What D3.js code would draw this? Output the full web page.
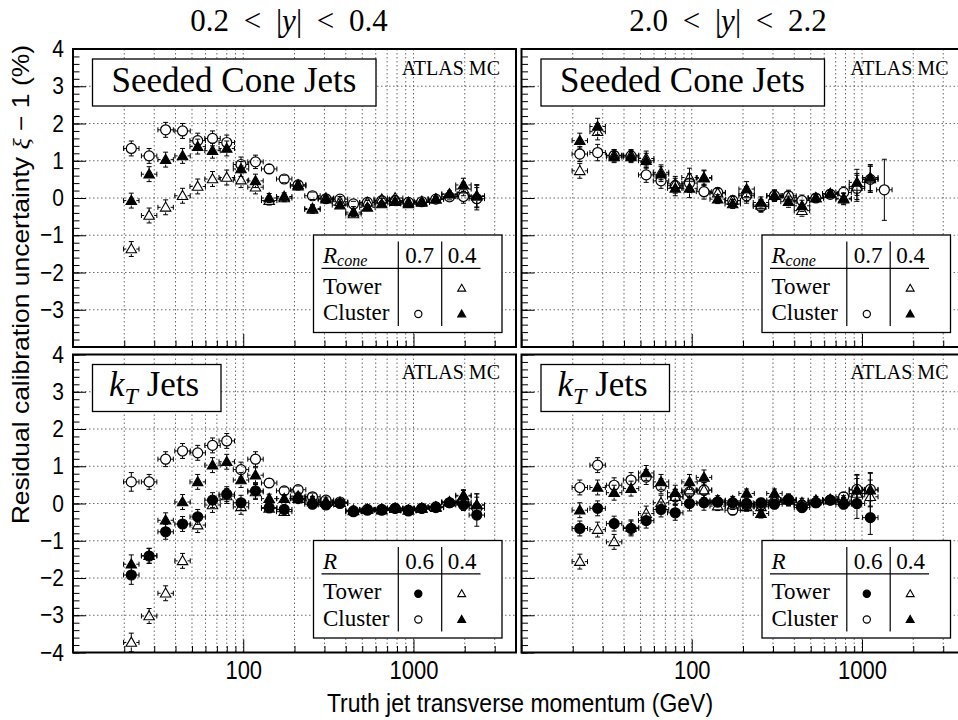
<!DOCTYPE html>
<html>
<head>
<meta charset="utf-8">
<script src="https://cdn.jsdelivr.net/npm/d3@7"></script>
<style>
  body { margin: 0; background: #fff; }
</style>
</head>
<body>
<div id="chart"></div>
<script>
// bin centres in truth jet pT (GeV)
const ptBins = [22, 28, 35, 44, 54, 66, 80, 97, 118, 142, 174, 210, 255, 306, 370, 444, 536, 651, 780, 934, 1119, 1353, 1627, 1965, 2354];

// axis ticks
const yMajorTicks = [-4, -3, -2, -1, 0, 1, 2, 3, 4];
const yLabelTicksTop = [-3, -2, -1, 0, 1, 2, 3, 4];
const yLabelTicksBottom = [-4, -3, -2, -1, 0, 1, 2, 3, 4];
const yMinorTicks = d3.range(-4, 4.001, 0.2).map(v => +v.toFixed(1));
const xMajorTicks = [10, 100, 1000];
const xMinorTicks = [20, 30, 40, 50, 60, 70, 80, 90, 200, 300, 400, 500, 600, 700, 800, 900, 2000, 3000];
const xTickLabels = [100, 1000];

// Seeded cone, 0.2 < |y| < 0.4
const tlCluster07 = [1.33, 1.13, 1.83, 1.80, 1.54, 1.60, 1.49, 0.90, 0.97, 0.78, 0.51, 0.35, 0.06, -0.02, -0.03, -0.16, -0.12, -0.07, -0.07, -0.12, -0.10, -0.03, 0.03, 0.04, -0.02];
const tlCluster04 = [-0.07, 0.64, 1.03, 1.13, 1.38, 1.27, 1.33, 0.78, 0.46, 0.00, 0.04, 0.35, -0.28, -0.03, -0.19, -0.38, -0.25, -0.16, -0.10, -0.16, -0.12, -0.03, 0.11, 0.35, 0.06];
const tlTower04 = [-1.37, -0.47, -0.25, 0.06, 0.31, 0.51, 0.55, 0.48, 0.29, -0.07, 0.00, 0.32, -0.31, 0.00, -0.10, -0.43, -0.12, -0.03, 0.00, -0.12, -0.09, -0.03, 0.10, 0.24, 0.04];
const tlErr = [0.2, 0.2, 0.2, 0.2, 0.2, 0.2, 0.2, 0.2, 0.18, 0.12, 0.1, 0.1, 0.1, 0.08, 0.07, 0.07, 0.06, 0.06, 0.06, 0.06, 0.06, 0.06, 0.08, 0.18, 0.3];

// Seeded cone, 2.0 < |y| < 2.2
const trCluster07 = [1.18, 1.22, 1.14, 1.13, 0.62, 0.46, 0.33, 0.40, 0.17, 0.15, -0.07, 0.06, -0.23, 0.06, 0.06, -0.07, 0.00, 0.10, 0.15, 0.26, 0.50, 0.22];
const trCluster04 = [1.54, 1.92, 1.10, 1.10, 1.00, 0.64, 0.26, 0.26, 0.53, -0.03, -0.16, 0.24, -0.12, 0.06, -0.10, -0.21, 0.00, 0.12, -0.01, 0.42, 0.55];
const trTower04 = [0.73, 1.78, 1.15, 1.15, 1.06, 0.69, 0.38, 0.55, 0.55, 0.13, -0.07, 0.11, -0.19, 0.06, 0.02, -0.34, 0.00, 0.12, -0.03, 0.31, 0.51];
const trErr = [0.2, 0.22, 0.15, 0.15, 0.2, 0.2, 0.2, 0.25, 0.2, 0.12, 0.12, 0.2, 0.15, 0.15, 0.15, 0.15, 0.1, 0.1, 0.15, 0.35, 0.35, 0.82];

// kT, 0.2 < |y| < 0.4
const blTower06 = [-1.92, -1.41, -0.76, -0.55, -0.36, 0.09, 0.25, 0.02, 0.34, -0.11, -0.16, 0.13, -0.02, -0.04, 0.00, -0.22, -0.18, -0.18, -0.13, -0.20, -0.13, -0.11, 0.02, -0.04, -0.31];
const blCluster06 = [0.58, 0.58, 1.19, 1.41, 1.36, 1.56, 1.68, 0.91, 1.19, 0.55, 0.34, 0.37, 0.18, 0.09, 0.04, -0.20, -0.16, -0.16, -0.13, -0.18, -0.13, -0.09, 0.02, 0.04, -0.13];
const blTower04 = [-3.73, -3.02, -2.41, -1.54, -0.58, -0.04, 0.20, -0.09, 0.31, -0.13, -0.22, 0.13, 0.04, 0.02, 0.02, -0.18, -0.16, -0.16, -0.13, -0.18, -0.13, -0.11, 0.04, 0.20, -0.04];
const blCluster04 = [-1.63, -1.40, -0.45, 0.04, 0.58, 1.03, 1.12, 0.63, 0.76, 0.13, 0.13, 0.20, 0.09, 0.04, 0.02, -0.20, -0.16, -0.18, -0.13, -0.18, -0.13, -0.09, 0.04, 0.22, -0.04];
const blErr = [0.25, 0.2, 0.2, 0.2, 0.2, 0.2, 0.2, 0.2, 0.2, 0.12, 0.1, 0.1, 0.1, 0.08, 0.07, 0.06, 0.06, 0.06, 0.06, 0.06, 0.06, 0.06, 0.08, 0.15, 0.3];

// kT, 2.0 < |y| < 2.2
const brTower06 = [-0.67, -0.13, -0.54, -0.67, -0.46, -0.16, -0.25, 0.00, 0.02, 0.04, 0.02, 0.00, 0.02, -0.02, 0.11, -0.11, 0.02, 0.09, -0.02, 0.00, -0.38];
const brCluster06 = [0.43, 1.03, 0.49, 0.63, 0.71, 0.46, 0.18, 0.31, 0.36, 0.04, -0.18, -0.04, -0.04, 0.04, 0.09, -0.04, 0.02, 0.09, 0.18, 0.38, 0.38];
const brTower04 = [-1.56, -0.70, -1.03, -0.64, -0.27, 0.02, 0.18, 0.36, 0.36, -0.07, -0.04, -0.09, -0.09, 0.09, 0.09, 0.02, 0.07, 0.09, 0.09, 0.27, 0.18];
const brCluster04 = [-0.18, 0.43, 0.29, 0.40, 0.82, 0.58, 0.29, 0.58, 0.70, 0.09, 0.07, 0.27, -0.27, 0.27, 0.09, -0.04, 0.09, 0.11, 0.04, 0.36, 0.36];
const brErr = [0.2, 0.2, 0.2, 0.2, 0.2, 0.2, 0.2, 0.2, 0.2, 0.12, 0.12, 0.12, 0.12, 0.12, 0.15, 0.12, 0.1, 0.1, 0.12, 0.4, 0.45];

const serif = "'Liberation Serif', 'Times New Roman', serif";
const sans = "'Liberation Sans', Arial, sans-serif";
const stretch = 1.15;   // the sans labels are drawn a bit taller than wide

const W = 958, H = 720;
const pw = 443, ph = 298;

const svg = d3.select("#chart").append("svg")
    .attr("width", W)
    .attr("height", H)
    .style("font-family", sans);

const x = d3.scaleLog().domain([10, 4000]).range([0, pw]);
const y = d3.scaleLinear().domain([-4, 4]).range([ph, 0]);

// marker styles
const openCircle = {shape: "circle", fill: "none"};
const fullCircle = {shape: "circle", fill: "#000"};
const openTri = {shape: "tri", fill: "none"};
const fullTri = {shape: "tri", fill: "#000"};

const panels = [
    {ox: 73, oy: 49, kind: "cone", yTicks: yLabelTicksTop, xLabels: false, err: tlErr,
     series: [[tlCluster07, openCircle], [tlCluster04, fullTri], [tlTower04, openTri]]},
    {ox: 521.5, oy: 49, kind: "cone", yTicks: [], xLabels: false, err: trErr,
     series: [[trCluster07, openCircle], [trCluster04, fullTri], [trTower04, openTri]]},
    {ox: 73, oy: 354.5, kind: "kt", yTicks: yLabelTicksBottom, xLabels: true, err: blErr,
     series: [[blCluster06, openCircle], [blCluster04, fullTri], [blTower04, openTri], [blTower06, fullCircle]]},
    {ox: 521.5, oy: 354.5, kind: "kt", yTicks: [], xLabels: true, err: brErr,
     series: [[brCluster06, openCircle], [brCluster04, fullTri], [brTower04, openTri], [brTower06, fullCircle]]}
];

function drawMarker(g, style, cx, cy, r) {
    if (style.shape === "circle") {
        g.append("circle")
            .attr("cx", cx).attr("cy", cy).attr("r", r)
            .attr("fill", style.fill)
            .attr("stroke", "#000")
            .attr("stroke-width", 1.2);
    } else {
        g.append("path")
            .attr("d", d3.symbol(d3.symbolTriangle, r * r * 1.9)())
            .attr("transform", `translate(${cx},${cy + r * 0.15})`)
            .attr("fill", style.fill)
            .attr("stroke", "#000")
            .attr("stroke-width", 1.1);
    }
}

panels.forEach(p => {
    const g = svg.append("g").attr("transform", `translate(${p.ox},${p.oy})`);

    // grid
    const grid = g.append("g")
        .attr("stroke", "#444")
        .attr("stroke-width", 0.8)
        .attr("stroke-dasharray", "1.5,2.5");
    grid.selectAll(".gx")
        .data(xMinorTicks.concat([100, 1000]))
        .join("line")
        .attr("x1", d => x(d)).attr("x2", d => x(d))
        .attr("y1", 0).attr("y2", ph);
    grid.selectAll(".gy")
        .data(yMajorTicks.slice(1, -1))
        .join("line")
        .attr("x1", 0).attr("x2", pw)
        .attr("y1", d => y(d)).attr("y2", d => y(d));

    // y axis: major, minor ticks inside the frame
    const yAx = g.append("g")
        .call(d3.axisLeft(y).tickValues(yMinorTicks).tickSizeInner(-6.5).tickSizeOuter(0).tickFormat(""));
    yAx.select(".domain").remove();
    const yAxMaj = g.append("g")
        .call(d3.axisLeft(y).tickValues(p.yTicks.length ? p.yTicks : yMajorTicks)
            .tickSizeInner(-13).tickSizeOuter(0).tickPadding(9)
            .tickFormat(d => p.yTicks.length ? d3.format("d")(d) : ""));
    yAxMaj.select(".domain").remove();
    yAxMaj.selectAll("text")
        .style("font-family", sans)
        .style("font-size", "21px")
        .attr("transform", `scale(1,${stretch})`)
        .attr("fill", "#000");

    // x axis ticks on bottom edge
    const xAxMin = g.append("g")
        .attr("transform", `translate(0,${ph})`)
        .call(d3.axisBottom(x).tickValues(xMinorTicks).tickSizeInner(-6.5).tickSizeOuter(0).tickFormat(""));
    xAxMin.select(".domain").remove();
    const xAxMaj = g.append("g")
        .attr("transform", `translate(0,${ph})`)
        .call(d3.axisBottom(x).tickValues(xMajorTicks).tickSizeInner(-13).tickSizeOuter(0).tickPadding(7)
            .tickFormat(d => (p.xLabels && xTickLabels.includes(d)) ? d : ""));
    xAxMaj.select(".domain").remove();
    xAxMaj.selectAll("text")
        .style("font-family", sans)
        .style("font-size", "22px")
        .attr("transform", `scale(1,${stretch})`)
        .attr("fill", "#000");

    // data
    p.series.forEach(([vals, style]) => {
        const sg = g.append("g");
        vals.forEach((v, i) => {
            const pt = ptBins[i];
            const cx = x(pt), cy = y(v);
            const e = p.err[i];
            const xl = x(pt / 1.11), xr = x(pt * 1.11);
            const yt = y(v + e), yb = y(v - e);
            const gap = 5;
            const eb = sg.append("g").attr("stroke", "#000").attr("stroke-width", 1);
            if (cx - xl > gap) eb.append("line").attr("x1", xl).attr("x2", cx - gap).attr("y1", cy).attr("y2", cy);
            if (xr - cx > gap) eb.append("line").attr("x1", cx + gap).attr("x2", xr).attr("y1", cy).attr("y2", cy);
            if (cy - yt > gap) eb.append("line").attr("x1", cx).attr("x2", cx).attr("y1", yt).attr("y2", cy - gap);
            if (yb - cy > gap) eb.append("line").attr("x1", cx).attr("x2", cx).attr("y1", cy + gap).attr("y2", yb);
            // caps
            eb.append("line").attr("x1", xl).attr("x2", xl).attr("y1", cy - 2.5).attr("y2", cy + 2.5);
            eb.append("line").attr("x1", xr).attr("x2", xr).attr("y1", cy - 2.5).attr("y2", cy + 2.5);
            eb.append("line").attr("x1", cx - 2.5).attr("x2", cx + 2.5).attr("y1", yt).attr("y2", yt);
            eb.append("line").attr("x1", cx - 2.5).attr("x2", cx + 2.5).attr("y1", yb).attr("y2", yb);
            drawMarker(sg, style, cx, cy, 5);
        });
    });

    // title box
    g.append("rect")
        .attr("x", 19.5).attr("y", 10)
        .attr("width", p.kind === "cone" ? 283.5 : 128.5).attr("height", 47)
        .attr("fill", "#fff").attr("stroke", "#000").attr("stroke-width", 1.3);
    if (p.kind === "cone") {
        g.append("text")
            .attr("x", 161).attr("y", 43)
            .attr("text-anchor", "middle")
            .style("font-family", serif).style("font-size", "35px")
            .text("Seeded Cone Jets");
    } else {
        const t = g.append("text")
            .attr("x", 36).attr("y", 41)
            .style("font-family", serif).style("font-size", "35px");
        t.append("tspan").style("font-style", "italic").text("k");
        t.append("tspan").attr("dy", 8).style("font-style", "italic").style("font-size", "24px").text("T");
        t.append("tspan").attr("dy", -8).text(" Jets");
    }

    g.append("text")
        .attr("x", 427).attr("y", p.kind === "cone" ? 26 : 24)
        .attr("text-anchor", "end")
        .style("font-family", serif).style("font-size", "20px")
        .text("ATLAS MC");

    // legend table
    const lg = g.append("g").attr("transform", "translate(240.5,186)");
    lg.append("rect")
        .attr("width", 188.5).attr("height", 97.5)
        .attr("fill", "#fff").attr("stroke", "#000").attr("stroke-width", 1.3);
    lg.append("line").attr("x1", 8).attr("x2", 167).attr("y1", 33.3).attr("y2", 33.3)
        .attr("stroke", "#000").attr("stroke-width", 1.2);
    [84.8, 128.2].forEach(lx => lg.append("line")
        .attr("x1", lx).attr("x2", lx).attr("y1", 6.5).attr("y2", 91)
        .attr("stroke", "#000").attr("stroke-width", 1.2));
    const hdr = lg.append("text").attr("x", 9.5).attr("y", 28)
        .style("font-family", serif).style("font-size", "23px");
    hdr.append("tspan").style("font-style", "italic").text("R");
    if (p.kind === "cone") {
        hdr.append("tspan").attr("dy", 3).style("font-style", "italic").style("font-size", "16px").text("cone");
    }
    lg.append("text").attr("x", 106).attr("y", 28).attr("text-anchor", "middle")
        .style("font-family", serif).style("font-size", "23px")
        .text(p.kind === "cone" ? "0.7" : "0.6");
    lg.append("text").attr("x", 148.5).attr("y", 28).attr("text-anchor", "middle")
        .style("font-family", serif).style("font-size", "23px").text("0.4");
    lg.append("text").attr("x", 9.5).attr("y", 58.5)
        .style("font-family", serif).style("font-size", "23px").text("Tower");
    lg.append("text").attr("x", 9.5).attr("y", 85)
        .style("font-family", serif).style("font-size", "23px").text("Cluster");
    if (p.kind === "kt") drawMarker(lg, fullCircle, 104.8, 53.3, 3.6);
    drawMarker(lg, openTri, 148.2, 53.3, 3.8);
    drawMarker(lg, openCircle, 104.8, 79, 3.6);
    drawMarker(lg, fullTri, 148.2, 79, 3.8);

    // frame
    g.append("rect")
        .attr("width", pw).attr("height", ph)
        .attr("fill", "none").attr("stroke", "#000").attr("stroke-width", 2);
});

// column titles
const colTitles = [{x: 289, lo: "0.2", hi: "0.4"}, {x: 728, lo: "2.0", hi: "2.2"}];
colTitles.forEach(c => {
    const t = svg.append("text")
        .attr("x", c.x).attr("y", 31)
        .attr("text-anchor", "middle")
        .style("word-spacing", "7px")
        .style("font-family", serif).style("font-size", "31px");
    t.append("tspan").text(`${c.lo} < |`);
    t.append("tspan").style("font-style", "italic").text("y");
    t.append("tspan").text(`| < ${c.hi}`);
});

// axis titles
svg.append("text")
    .attr("transform", `translate(520,712) scale(1,${stretch})`)
    .attr("text-anchor", "middle")
    .style("font-size", "23px")
    .text("Truth jet transverse momentum (GeV)");

const yt = svg.append("text")
    .attr("transform", `translate(29,45) rotate(-90) scale(${stretch},1)`)
    .attr("text-anchor", "end")
    .style("font-size", "23px");
yt.append("tspan").text("Residual calibration uncertainty ");
yt.append("tspan").style("font-family", serif).style("font-style", "italic").text("ξ");
yt.append("tspan").text(" − 1 (%)");
</script>
</body>
</html>
